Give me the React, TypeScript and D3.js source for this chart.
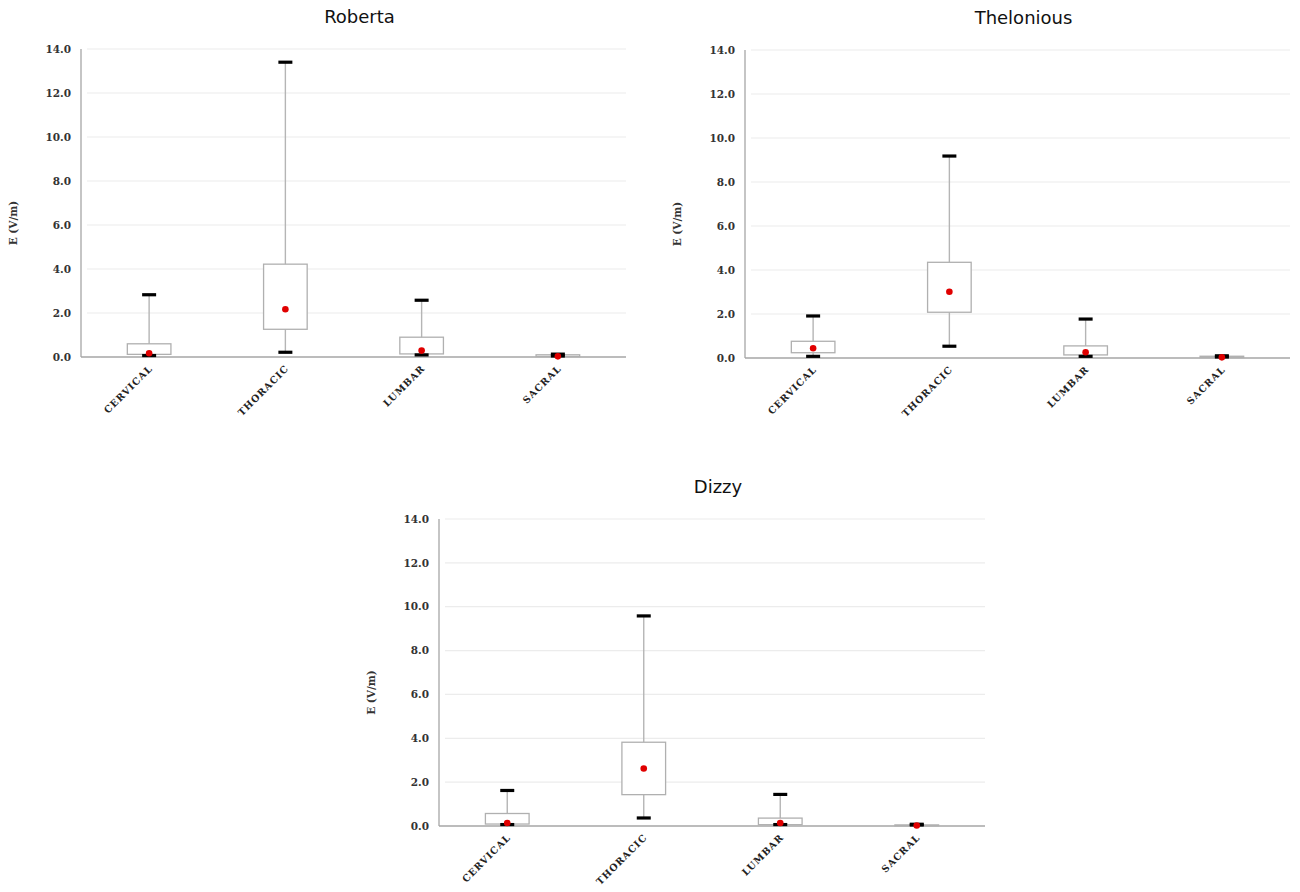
import { scaleBand, scaleLinear, range } from "d3";

const categories = ["CERVICAL", "THORACIC", "LUMBAR", "SACRAL"];
const yTicks = [0, 2, 4, 6, 8, 10, 12, 14];

// per-subject box statistics, in category order
const robertaMin = [0.02, 0.17, 0.05, 0.0];
const robertaQ1 = [0.12, 1.26, 0.14, 0.02];
const robertaQ3 = [0.6, 4.22, 0.9, 0.1];
const robertaMax = [2.83, 13.4, 2.58, 0.13];
const robertaMean = [0.17, 2.17, 0.29, 0.03];

const theloniousMin = [0.03, 0.49, 0.03, 0.0];
const theloniousQ1 = [0.24, 2.08, 0.14, 0.02];
const theloniousQ3 = [0.76, 4.35, 0.55, 0.08];
const theloniousMax = [1.91, 9.18, 1.77, 0.1];
const theloniousMean = [0.44, 3.01, 0.26, 0.03];

const dizzyMin = [0.02, 0.32, 0.02, 0.0];
const dizzyQ1 = [0.09, 1.43, 0.06, 0.01];
const dizzyQ3 = [0.57, 3.82, 0.36, 0.05];
const dizzyMax = [1.62, 9.58, 1.44, 0.08];
const dizzyMean = [0.14, 2.62, 0.14, 0.02];

const panels = [
  {
    title: "Roberta",
    left: 81, right: 626, top: 49, bottom: 357,
    min: robertaMin, q1: robertaQ1, q3: robertaQ3, max: robertaMax, mean: robertaMean,
  },
  {
    title: "Thelonious",
    left: 745, right: 1290, top: 50, bottom: 358,
    min: theloniousMin, q1: theloniousQ1, q3: theloniousQ3, max: theloniousMax, mean: theloniousMean,
  },
  {
    title: "Dizzy",
    left: 439, right: 985, top: 519, bottom: 826,
    min: dizzyMin, q1: dizzyQ1, q3: dizzyQ3, max: dizzyMax, mean: dizzyMean,
  },
];

const serif = "'DejaVu Serif', 'Liberation Serif', serif";
const sans = "'DejaVu Sans', Verdana, sans-serif";

function Panel({ p }: { p: (typeof panels)[number] }) {
  const x = scaleBand<string>().domain(categories).range([p.left, p.right]);
  const y = scaleLinear().domain([0, 14]).range([p.bottom, p.top]);
  const boxW = x.bandwidth() * 0.32;
  const capW = 14;
  const mid = (p.top + p.bottom) / 2;

  return (
    <g>
      <text
        x={(p.left + p.right) / 2 + 6}
        y={p.top - 26}
        textAnchor="middle"
        fontFamily={sans}
        fontSize={18}
        fill="#111"
      >
        {p.title}
      </text>

      {yTicks.slice(1).map((t) => (
        <line key={t} x1={p.left + 6} x2={p.right} y1={y(t)} y2={y(t)} stroke="#ececec" strokeWidth={1.2} />
      ))}

      <line x1={p.left} x2={p.left} y1={p.top} y2={p.bottom} stroke="#a6a6a6" strokeWidth={1.3} />
      <line x1={p.left} x2={p.right} y1={p.bottom} y2={p.bottom} stroke="#a6a6a6" strokeWidth={1.3} />

      {yTicks.map((t) => (
        <text
          key={t}
          x={p.left - 10}
          y={y(t)}
          dy="0.35em"
          textAnchor="end"
          fontFamily={serif}
          fontWeight="bold"
          fontSize={10.5}
          fill="#333"
        >
          {t.toFixed(1)}
        </text>
      ))}

      <text
        transform={`translate(${p.left - 64},${mid + 20}) rotate(-90)`}
        textAnchor="middle"
        fontFamily={serif}
        fontWeight="bold"
        fontSize={10.5}
        fill="#333"
      >
        E (V/m)
      </text>

      {range(categories.length).map((i) => {
        const c = categories[i];
        const cx = (x(c) ?? 0) + x.bandwidth() / 2;
        return (
          <g key={c}>
            <line x1={cx} x2={cx} y1={y(p.max[i])} y2={y(p.min[i])} stroke="#b5b5b5" strokeWidth={1.4} />
            <rect
              x={cx - boxW / 2}
              y={y(p.q3[i])}
              width={boxW}
              height={Math.max(y(p.q1[i]) - y(p.q3[i]), 0.5)}
              fill="#fff"
              stroke="#b0b0b0"
              strokeWidth={1.3}
            />
            <line x1={cx - capW / 2} x2={cx + capW / 2} y1={y(p.max[i])} y2={y(p.max[i])} stroke="#000" strokeWidth={3.2} />
            <line x1={cx - capW / 2} x2={cx + capW / 2} y1={y(p.min[i]) - 1} y2={y(p.min[i]) - 1} stroke="#000" strokeWidth={3.2} />
            <circle cx={cx} cy={y(p.mean[i])} r={3.3} fill="#e00000" />
            <text
              transform={`translate(${cx + 4},${p.bottom + 12}) rotate(-45)`}
              textAnchor="end"
              fontFamily={serif}
              fontWeight="bold"
              fontSize={9.5}
              letterSpacing={1}
              fill="#222"
            >
              {c}
            </text>
          </g>
        );
      })}
    </g>
  );
}

export default function App() {
  return (
    <svg width={1300} height={892} style={{ position: "absolute", left: 0, top: 0, background: "#fff" }}>
      <rect width={1300} height={892} fill="#fff" />
      {panels.map((p) => (
        <Panel key={p.title} p={p} />
      ))}
    </svg>
  );
}
